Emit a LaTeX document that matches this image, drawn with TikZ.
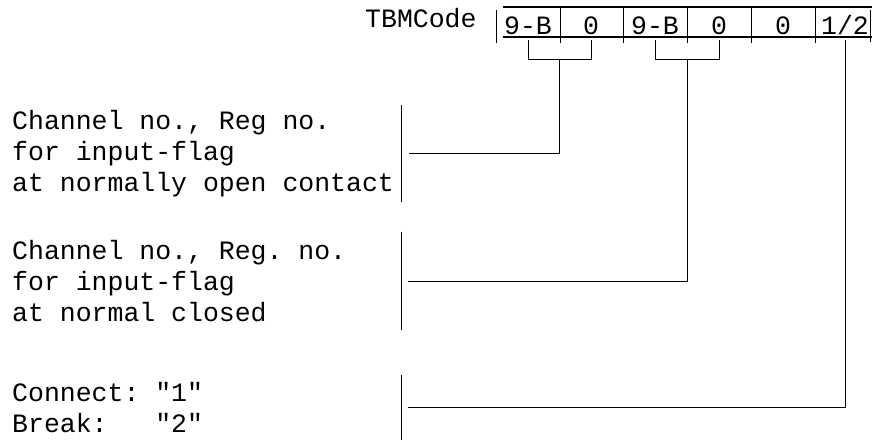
\documentclass[tikz,border=0pt]{standalone}
\usepackage{fontspec}
\newfontfamily\tbmfont{Liberation Mono}
\newcommand\tbmtext{\tbmfont\fontsize{26.5}{31}\selectfont}
\usetikzlibrary{calc}

\begin{document}
\begin{tikzpicture}[x=1pt, y=-1pt,
    cell/.style={font=\tbmtext, anchor=base, inner sep=0pt},
    desc/.style={font=\tbmtext, anchor=west, align=left, text width=389pt, inner sep=0pt,
        execute at begin node={\spaceskip=0.6em\xspaceskip=0.6em\relax}},
    rule/.style={line width=1.6pt},
    wire/.style={line width=0.9pt}
]
\useasboundingbox (0,0) rectangle (878,440);

% Titel und Kopfzeile der Tabelle
\node[cell, anchor=base west] (tbm) at (365,27) {TBMCode};
\draw[rule] (503,7) -- (872,7);
\draw[rule] (503,37) -- (872,37);
\draw[wire] (496,10) -- (496,43);
\draw[wire] (870,10) -- (870,42);
\foreach \x in {560,623,687,751,815} {
    \draw[wire] (\x,8) -- (\x,43);
}

% Inhalt der Felder
% Format: name, x, text
\foreach \name/\x/\txt in {
    c1/528/9-B,
    c2/591/0,
    c3/655/9-B,
    c4/719/0,
    c5/783/0,
    c6/845/{1/2}
} {
    \node[cell] (\name) at (\x,34) {\txt};
}

% Beschreibungen links
\node[desc, minimum height=97pt] (noopen) at (12,153.5)
    {Channel no., Reg no.\\for input-flag\\at normally open contact};
\node[desc, minimum height=98pt] (noclosed) at (12,281)
    {Channel no., Reg. no.\\for input-flag\\at normal closed};
\node[desc, minimum height=65pt] (connbreak) at (12,407.5)
    {Connect: "1"\\Break:\phantom{xx} "2"};
\foreach \desc in {noopen, noclosed, connbreak} {
    \draw[wire] (\desc.north east) -- (\desc.south east);
}

% Klammern unter den Feldern
\draw[wire] ([yshift=-6pt]c1.base) -- ++(0,19) -| ([yshift=-6pt]c2.base);
\draw[wire] ([yshift=-6pt]c3.base) -- ++(0,19) -| ([yshift=-6pt]c4.base);
\coordinate (m1) at ($(c1.base)!.5!(c2.base)+(0,25)$);
\coordinate (m2) at ($(c3.base)!.5!(c4.base)+(0,25)$);

% Verbindungen zu den Beschreibungen
\draw[wire] (m1) |- ([xshift=8pt]noopen.east);
\draw[wire] (m2) |- ([xshift=7pt]noclosed.east);
\draw[wire] ([yshift=-6pt]c6.base) |- ([xshift=7pt]connbreak.east);
\end{tikzpicture}
\end{document}
